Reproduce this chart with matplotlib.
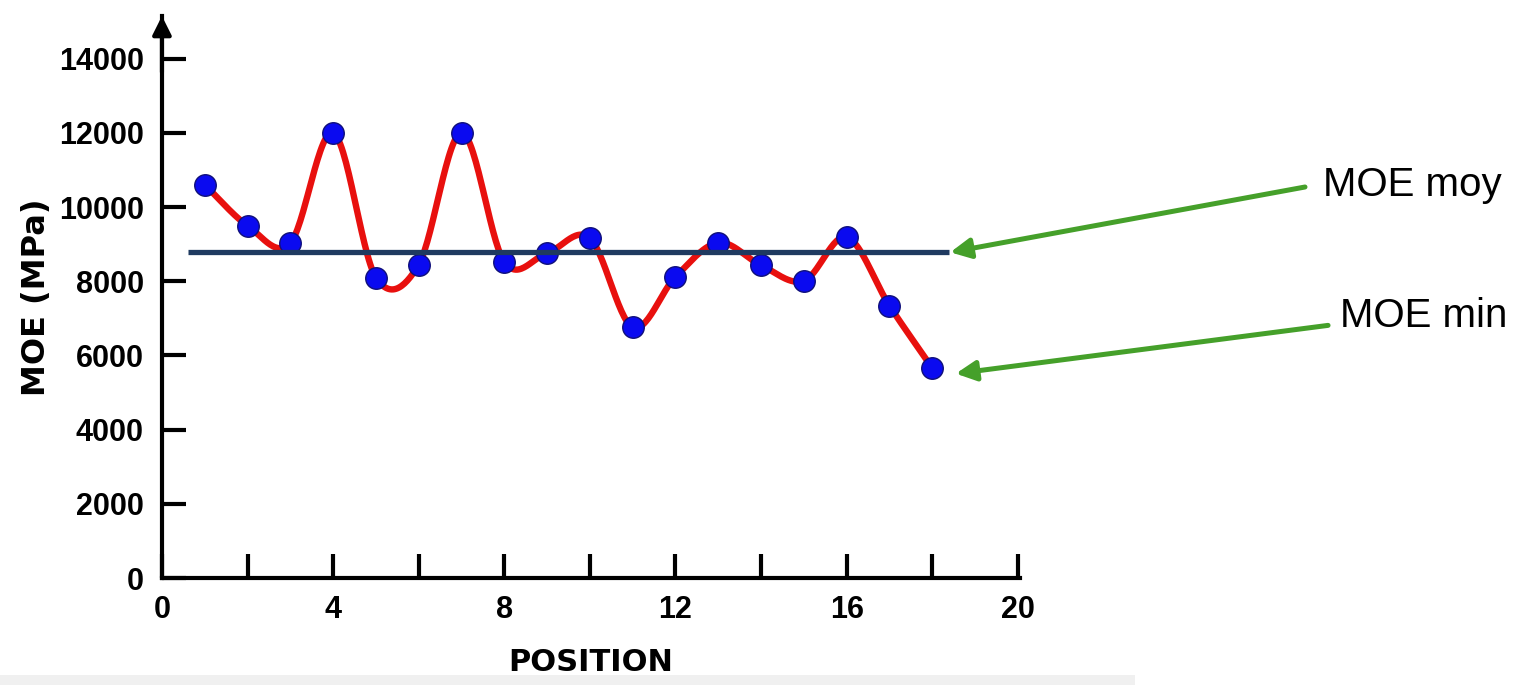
#MOE langs de positie - nagemaakt

#Import
import numpy as np
import matplotlib
matplotlib.use("Agg")
import matplotlib.pyplot as plt
from matplotlib.patches import Rectangle

# data
positions = [1, 2, 3, 4, 5, 6, 7, 8, 9, 10, 11, 12, 13, 14, 15, 16, 17, 18]
moe = [10600, 9500, 9030, 12000, 8100, 8450, 12000, 8520, 8760, 9160,
       6760, 8120, 9040, 8430, 8010, 9190, 7340, 5660]
moe_moy = 8780
x_ticks = [0, 4, 8, 12, 16, 20]
y_ticks = [0, 2000, 4000, 6000, 8000, 10000, 12000, 14000]


# Catmull-Rom for the smooth red line
def smooth(xs, ys, n=30):
    xs = np.asarray(xs, float)
    ys = np.asarray(ys, float)
    px = np.concatenate([[2 * xs[0] - xs[1]], xs, [2 * xs[-1] - xs[-2]]])
    py = np.concatenate([[2 * ys[0] - ys[1]], ys, [2 * ys[-1] - ys[-2]]])
    out_x, out_y = [], []
    t = np.linspace(0, 1, n, endpoint=False)
    for i in range(1, len(px) - 2):
        for arr, res in ((px, out_x), (py, out_y)):
            p0, p1, p2, p3 = arr[i - 1], arr[i], arr[i + 1], arr[i + 2]
            res.extend(0.5 * (2 * p1 + (-p0 + p2) * t
                              + (2 * p0 - 5 * p1 + 4 * p2 - p3) * t ** 2
                              + (-p0 + 3 * p1 - 3 * p2 + p3) * t ** 3))
    out_x.append(xs[-1])
    out_y.append(ys[-1])
    return np.array(out_x), np.array(out_y)


fig = plt.figure(figsize=(15.38, 6.85), dpi=100, facecolor="white")
ax = fig.add_axes([0.1053, 0.1562, 0.5579, 0.8204])

sx, sy = smooth(positions, moe)
ax.plot(sx, sy, color="#e8100e", lw=4.6, zorder=3, solid_capstyle="round")
ax.plot(positions, moe, "o", color="#0a0af0", mec="#10107a", mew=1,
        ms=15.5, zorder=4)

# moyenne
ax.hlines(moe_moy, positions[0] - 0.4, positions[-1] + 0.38,
          color="#1f3a60", lw=3.8, zorder=5)

ax.set_xlim(0, 20.05)
ax.set_ylim(0, 15150)

for s in ["top", "right"]:
    ax.spines[s].set_visible(False)
for s in ["left", "bottom"]:
    ax.spines[s].set_linewidth(3)

ax.set_xticks(x_ticks)
ax.set_xticks(range(2, 21, 4), minor=True)
ax.set_yticks(y_ticks)
ax.tick_params(axis="both", which="both", direction="in", length=17,
               width=3, labelsize=22)
ax.tick_params(axis="x", pad=12)
ax.tick_params(axis="y", pad=13)
for lab in ax.get_xticklabels() + ax.get_yticklabels():
    lab.set_fontweight("bold")
    lab.set_family("Liberation Sans")

ax.set_xlabel("POSITION", fontsize=22, fontweight="bold", labelpad=17)
ax.set_ylabel("MOE (MPa)", fontsize=23, fontweight="bold", labelpad=5)

# pijl bovenaan de y-as
ax.annotate("", xy=(0, 1.0), xycoords="axes fraction", xytext=(0, 0.9),
            arrowprops=dict(arrowstyle="-|>", lw=3, color="black",
                            mutation_scale=28, shrinkA=0, shrinkB=0))

# annotaties
green = "#45a02a"
ax.annotate("", xy=(positions[-1] + 0.42, moe_moy),
            xytext=(0.8485, 0.727), textcoords="figure fraction",
            arrowprops=dict(arrowstyle="-|>", lw=3.6, color=green,
                            mutation_scale=30, shrinkA=0, shrinkB=0))
ax.annotate("", xy=(positions[-1] + 0.55, moe[-1] - 150),
            xytext=(0.8635, 0.525), textcoords="figure fraction",
            arrowprops=dict(arrowstyle="-|>", lw=3.6, color=green,
                            mutation_scale=30, shrinkA=0, shrinkB=0))
fig.text(0.860, 0.730, "MOE moy", fontsize=29, family="Liberation Sans",
         va="center", ha="left")
fig.text(0.871, 0.539, "MOE min", fontsize=29, family="Liberation Sans",
         va="center", ha="left")

# grijze rand onderaan
fig.patches.append(Rectangle((0, 0), 0.738, 0.0146, transform=fig.transFigure,
                             facecolor="#f0f0f0", edgecolor="none", zorder=0))

fig.savefig("out.png", dpi=100, facecolor="white")
